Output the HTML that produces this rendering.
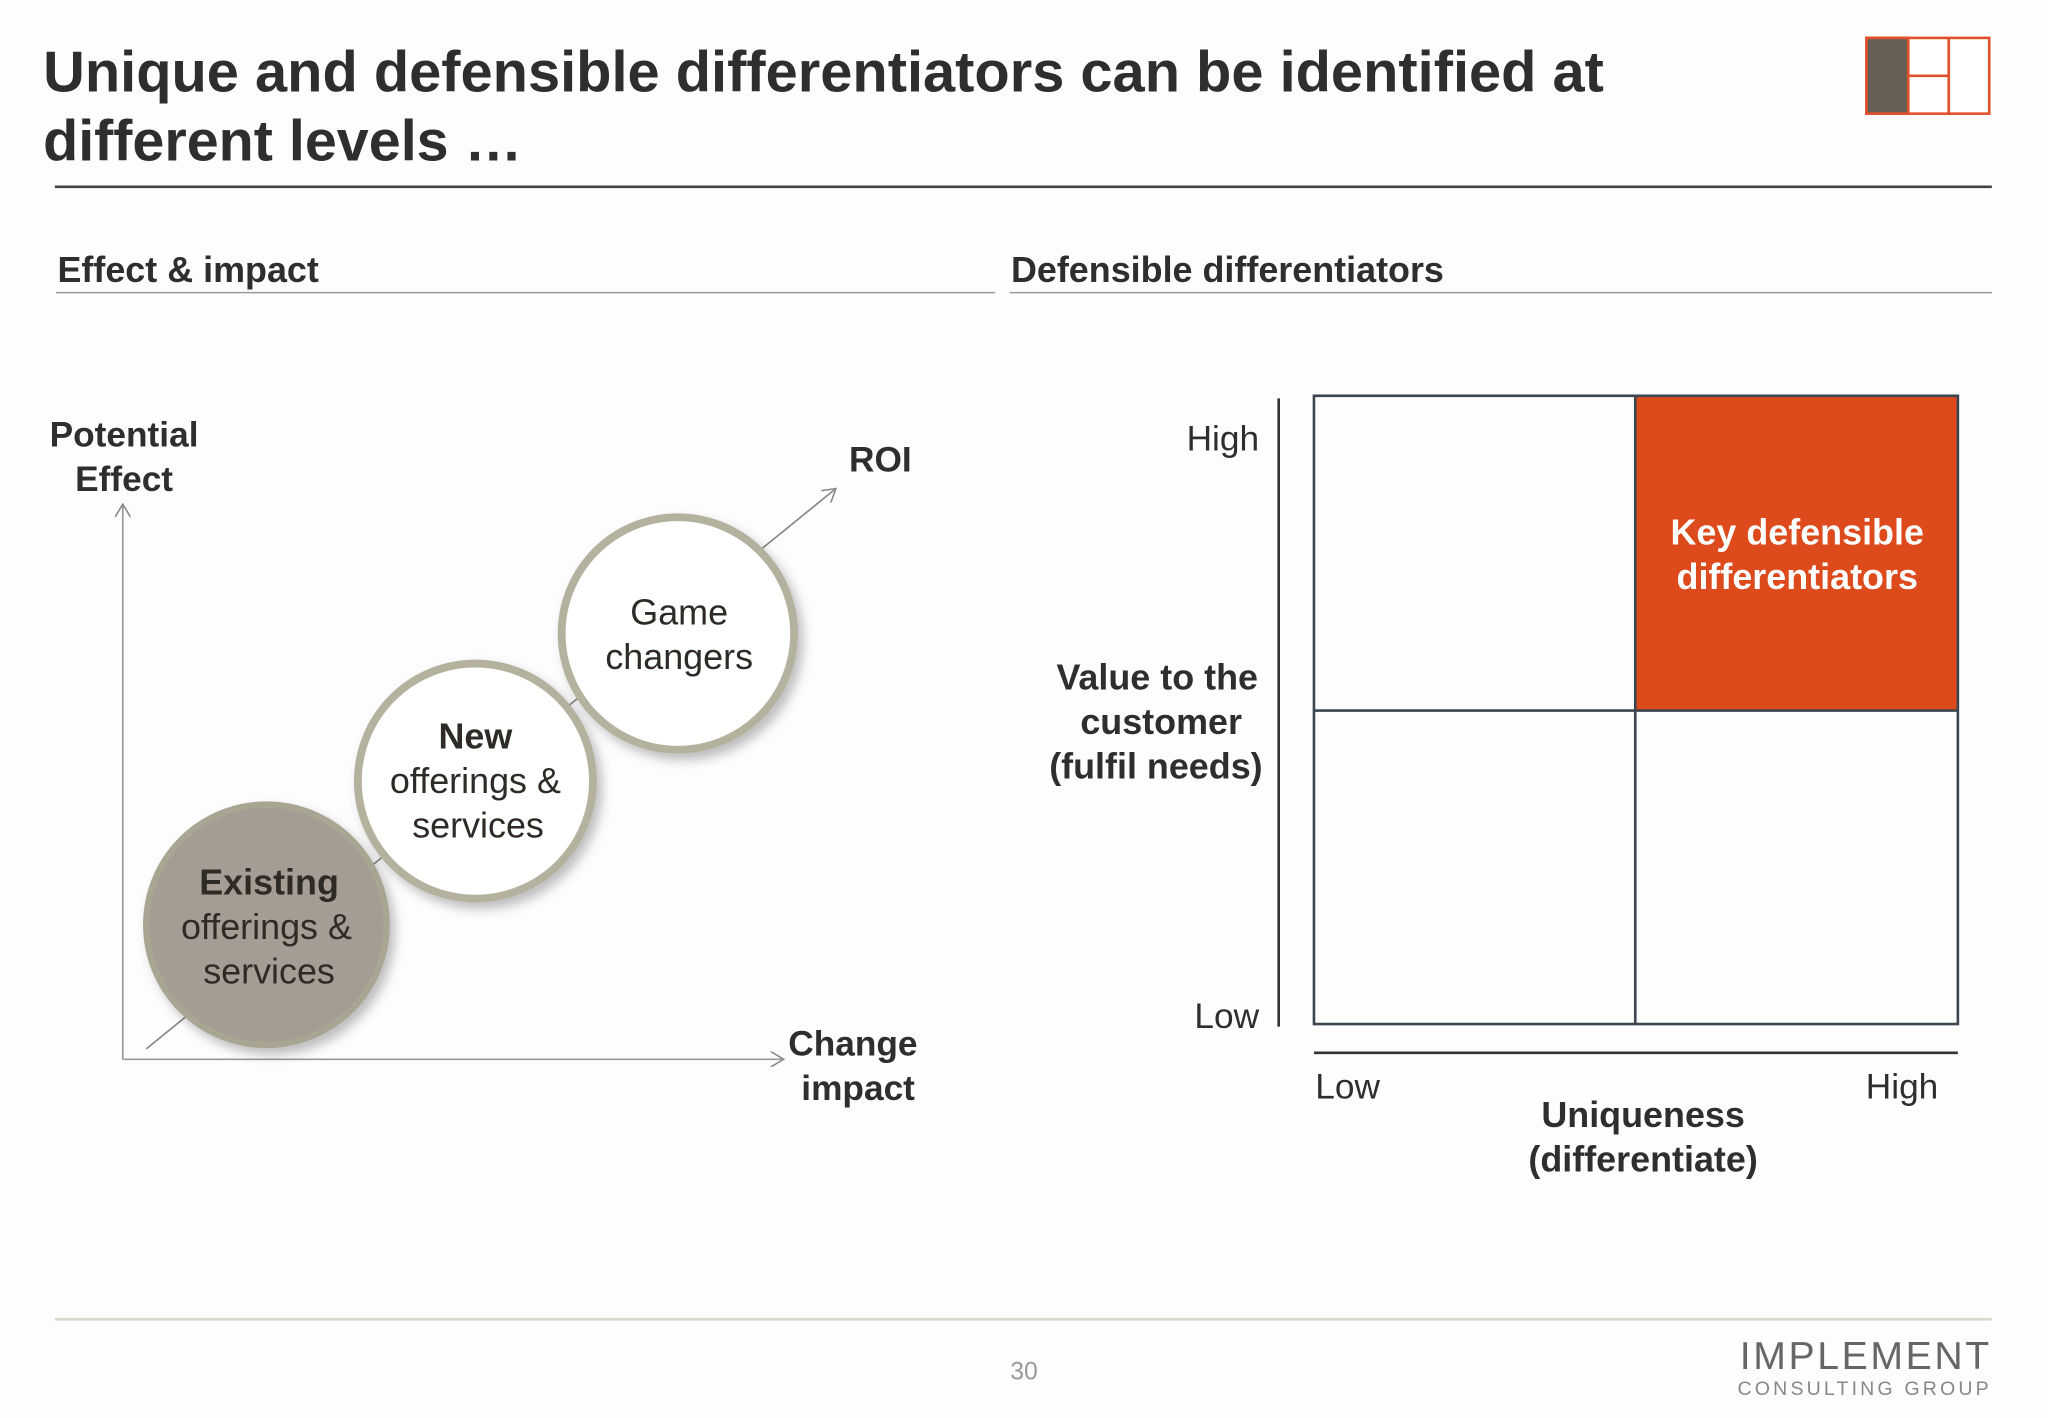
<!DOCTYPE html>
<html><head><meta charset="utf-8"><style>
html,body{margin:0;padding:0;background:#fdfdfd}
svg{display:block}
text{font-family:"Liberation Sans",Arial,sans-serif}
</style></head><body>
<svg width="2048" height="1418" viewBox="0 0 1568 1085.6" xmlns="http://www.w3.org/2000/svg">
<defs>
<marker id="ar" markerWidth="12" markerHeight="12" refX="10" refY="6" orient="auto" markerUnits="userSpaceOnUse"><path d="M0,0 L10,6 L0,12" fill="none" stroke="#888" stroke-width="1.2"/></marker>
<filter id="sh" x="-30%" y="-30%" width="170%" height="170%"><feDropShadow dx="4" dy="5" stdDeviation="4" flood-color="#000" flood-opacity="0.25"/></filter>
</defs>
<rect width="1568" height="1086" fill="#fdfdfd"/>
<g font-size="44" font-weight="bold" fill="#2e2e2e">
<text x="33" y="70" textLength="1195" lengthAdjust="spacingAndGlyphs">Unique and defensible differentiators can be identified at</text>
<text x="33" y="123">different levels …</text>
</g>
<g stroke="#e0502a" stroke-width="2">
<rect x="1429" y="29" width="94" height="58" fill="#fff"/>
<rect x="1429" y="29" width="32" height="58" fill="#675f55"/>
<line x1="1492" y1="29" x2="1492" y2="87"/><line x1="1461" y1="58" x2="1492" y2="58"/>
</g>
<line x1="42" y1="143" x2="1525" y2="143" stroke="#444" stroke-width="2"/>
<text x="44" y="216" font-size="27.5" font-weight="bold" fill="#2e2e2e">Effect &amp; impact</text>
<line x1="43" y1="224" x2="762" y2="224" stroke="#999" stroke-width="1.2"/>
<text x="774" y="216" font-size="27.5" font-weight="bold" fill="#2e2e2e">Defensible differentiators</text>
<line x1="773" y1="224" x2="1525" y2="224" stroke="#999" stroke-width="1.2"/>

<g>
<line x1="94" y1="811" x2="94" y2="386" stroke="#999" stroke-width="1.3" marker-end="url(#ar)"/>
<line x1="94" y1="811" x2="600" y2="811" stroke="#999" stroke-width="1.3" marker-end="url(#ar)"/>
<line x1="112" y1="803" x2="640" y2="374" stroke="#888" stroke-width="1.3" marker-end="url(#ar)"/>
<g font-size="27" font-weight="bold" fill="#2e2e2e" text-anchor="middle">
<text x="95" y="342">Potential<tspan x="95" dy="34">Effect</tspan></text>
<text x="674" y="361">ROI</text>
<text x="653" y="808">Change<tspan x="657" dy="34">impact</tspan></text>
</g>
<g>
<circle cx="204" cy="708" r="92" fill="#a59d94" stroke="#a8a692" stroke-width="5" filter="url(#sh)"/>
<text x="206" y="685" text-anchor="middle" font-size="27.5" fill="#2e2a26"><tspan font-weight="bold">Existing</tspan><tspan x="204" dy="34">offerings &amp;</tspan><tspan x="206" dy="34">services</tspan></text>
</g>
<g>
<circle cx="364" cy="598" r="90" fill="#fff" stroke="#b4b29e" stroke-width="6" filter="url(#sh)"/>
<text x="364" y="573" text-anchor="middle" font-size="27.5" fill="#2e2a26"><tspan font-weight="bold">New</tspan><tspan x="364" dy="34">offerings &amp;</tspan><tspan x="366" dy="34">services</tspan></text>
</g>
<g>
<circle cx="519" cy="485" r="89" fill="#fff" stroke="#b4b29e" stroke-width="6" filter="url(#sh)"/>
<text x="520" y="478" text-anchor="middle" font-size="27.5" fill="#2e2a26">Game<tspan x="520" dy="34">changers</tspan></text>
</g>
</g>

<g>
<line x1="979" y1="305" x2="979" y2="786" stroke="#333" stroke-width="2"/>
<line x1="1006" y1="806" x2="1499" y2="806" stroke="#333" stroke-width="2"/>
<rect x="1252" y="303" width="247" height="241" fill="#dd4a1c"/>
<g fill="none" stroke="#3c4650" stroke-width="2">
<rect x="1006" y="303" width="493" height="481"/>
<line x1="1252" y1="303" x2="1252" y2="784"/><line x1="1006" y1="544" x2="1499" y2="544"/>
</g>
<text x="1376" y="417" text-anchor="middle" font-size="27.5" font-weight="bold" fill="#fff">Key defensible<tspan x="1376" dy="34">differentiators</tspan></text>
<g font-size="27" fill="#2e2e2e">
<text x="964" y="345" text-anchor="end">High</text>
<text x="964" y="787" text-anchor="end">Low</text>
<text x="1007" y="841">Low</text>
<text x="1484" y="841" text-anchor="end">High</text>
</g>
<g font-size="27.5" font-weight="bold" fill="#2e2e2e" text-anchor="middle">
<text x="886" y="528">Value to the<tspan x="889" dy="34">customer</tspan><tspan x="885" dy="34">(fulfil needs)</tspan></text>
<text x="1258" y="863">Uniqueness<tspan x="1258" dy="34">(differentiate)</tspan></text>
</g>
</g>

<line x1="42" y1="1010" x2="1525" y2="1010" stroke="#d8d8cc" stroke-width="2"/>
<text x="784" y="1056" text-anchor="middle" font-size="19" fill="#999">30</text>
<g fill="#666">
<text x="1525" y="1048" text-anchor="end" font-size="30" letter-spacing="2">IMPLEMENT</text>
<text x="1525" y="1068" text-anchor="end" font-size="15" letter-spacing="2.4" fill="#888">CONSULTING GROUP</text>
</g>
</svg>
</body></html>
